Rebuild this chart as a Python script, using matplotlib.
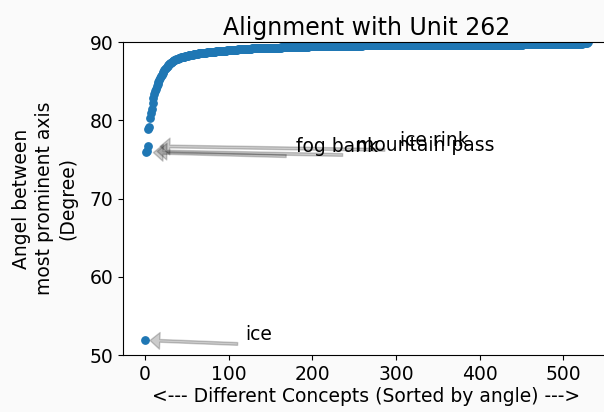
import matplotlib
matplotlib.use("Agg")
import matplotlib.pyplot as plt
import numpy as np

# Angle (degrees) between each concept and the unit's most prominent axis, sorted ascending
angles = [
    51.90, 75.90, 76.05, 76.70, 78.90, 79.20, 80.30, 80.90, 81.50, 82.20,
    82.80, 83.30, 83.70, 84.05, 84.35, 84.65, 84.90, 85.15, 85.40, 85.60,
    85.80, 86.00, 86.20, 86.40, 86.55, 86.70, 86.85, 87.00, 87.10, 87.20,
    87.30, 87.38, 87.46, 87.54, 87.60, 87.66, 87.72, 87.78, 87.83, 87.88,
    87.92, 87.96, 88.00, 88.03, 88.06, 88.09, 88.12, 88.15, 88.18, 88.21,
    88.24, 88.27, 88.30, 88.32, 88.34, 88.36, 88.38, 88.40, 88.42, 88.44,
    88.46, 88.48, 88.50, 88.52, 88.54, 88.55, 88.57, 88.58, 88.60, 88.61,
    88.62, 88.64, 88.65, 88.66, 88.68, 88.69, 88.70, 88.71, 88.72, 88.73,
    88.74, 88.75, 88.76, 88.77, 88.78, 88.79, 88.80, 88.81, 88.82, 88.83,
    88.84, 88.85, 88.86, 88.87, 88.88, 88.89, 88.90, 88.91, 88.92, 88.93,
    88.94, 88.95, 88.96, 88.97, 88.98, 88.99, 89.00, 89.01, 89.02, 89.03,
    89.04, 89.05, 89.06, 89.07, 89.08, 89.09, 89.10, 89.11, 89.12, 89.13,
    89.14, 89.14, 89.15, 89.15, 89.16, 89.16, 89.17, 89.17, 89.18, 89.18,
    89.19, 89.19, 89.20, 89.20, 89.21, 89.21, 89.21, 89.22, 89.22, 89.22,
    89.23, 89.23, 89.23, 89.24, 89.24, 89.24, 89.25, 89.25, 89.25, 89.26,
    89.26, 89.26, 89.27, 89.27, 89.27, 89.28, 89.28, 89.28, 89.29, 89.29,
    89.29, 89.30, 89.30, 89.31, 89.32, 89.33, 89.34, 89.35, 89.35, 89.36,
    89.36, 89.36, 89.37, 89.37, 89.37, 89.38, 89.38, 89.38, 89.38, 89.39,
    89.39, 89.39, 89.39, 89.40, 89.40, 89.40, 89.40, 89.41, 89.41, 89.41,
    89.41, 89.42, 89.42, 89.42, 89.42, 89.42, 89.43, 89.43, 89.43, 89.43,
    89.43, 89.44, 89.44, 89.44, 89.44, 89.44, 89.45, 89.45, 89.45, 89.45,
    89.45, 89.45, 89.46, 89.46, 89.46, 89.46, 89.46, 89.46, 89.47, 89.47,
    89.47, 89.47, 89.47, 89.47, 89.47, 89.48, 89.48, 89.48, 89.48, 89.48,
    89.48, 89.48, 89.49, 89.49, 89.49, 89.49, 89.49, 89.49, 89.49, 89.50,
    89.51, 89.52, 89.52, 89.53, 89.53, 89.53, 89.54, 89.54, 89.54, 89.54,
    89.55, 89.55, 89.55, 89.55, 89.55, 89.55, 89.55, 89.55, 89.55, 89.55,
    89.56, 89.56, 89.56, 89.56, 89.56, 89.56, 89.56, 89.56, 89.56, 89.56,
    89.56, 89.56, 89.56, 89.56, 89.56, 89.56, 89.56, 89.56, 89.56, 89.56,
    89.57, 89.57, 89.57, 89.57, 89.57, 89.57, 89.57, 89.57, 89.57, 89.57,
    89.57, 89.57, 89.57, 89.57, 89.57, 89.57, 89.57, 89.57, 89.57, 89.57,
    89.57, 89.57, 89.57, 89.57, 89.57, 89.57, 89.57, 89.57, 89.57, 89.57,
    89.58, 89.58, 89.58, 89.58, 89.58, 89.58, 89.58, 89.58, 89.58, 89.58,
    89.58, 89.58, 89.58, 89.58, 89.58, 89.58, 89.58, 89.58, 89.58, 89.58,
    89.58, 89.58, 89.58, 89.58, 89.58, 89.58, 89.58, 89.58, 89.58, 89.58,
    89.59, 89.59, 89.59, 89.59, 89.59, 89.59, 89.59, 89.59, 89.59, 89.59,
    89.59, 89.59, 89.59, 89.59, 89.59, 89.59, 89.59, 89.59, 89.59, 89.59,
    89.59, 89.59, 89.59, 89.59, 89.59, 89.59, 89.59, 89.59, 89.59, 89.59,
    89.60, 89.60, 89.60, 89.60, 89.60, 89.60, 89.60, 89.60, 89.60, 89.60,
    89.60, 89.60, 89.60, 89.60, 89.60, 89.60, 89.60, 89.60, 89.60, 89.60,
    89.60, 89.60, 89.60, 89.60, 89.60, 89.60, 89.60, 89.60, 89.60, 89.60,
    89.61, 89.61, 89.61, 89.61, 89.61, 89.61, 89.61, 89.61, 89.61, 89.61,
    89.61, 89.61, 89.61, 89.61, 89.61, 89.61, 89.61, 89.61, 89.61, 89.61,
    89.61, 89.61, 89.61, 89.61, 89.61, 89.61, 89.61, 89.61, 89.61, 89.61,
    89.62, 89.62, 89.62, 89.62, 89.62, 89.62, 89.62, 89.62, 89.62, 89.62,
    89.62, 89.62, 89.62, 89.62, 89.66, 89.67, 89.67, 89.67, 89.68, 89.68,
    89.68, 89.68, 89.69, 89.69, 89.69, 89.69, 89.70, 89.70, 89.70, 89.70,
    89.70, 89.71, 89.71, 89.71, 89.71, 89.71, 89.72, 89.72, 89.72, 89.72,
    89.72, 89.72, 89.73, 89.73, 89.73, 89.73, 89.73, 89.73, 89.74, 89.74,
    89.74, 89.74, 89.74, 89.74, 89.74, 89.75, 89.75, 89.75, 89.75, 89.75,
    89.75, 89.75, 89.76, 89.76, 89.76, 89.76, 89.76, 89.76, 89.76, 89.77,
    89.77, 89.77, 89.77, 89.77, 89.77, 89.77, 89.78, 89.78, 89.78, 89.78,
    89.78, 89.78, 89.78, 89.79, 89.79, 89.79, 89.79, 89.79, 89.80, 89.80,
    89.80, 89.81, 89.81, 89.82, 89.83, 89.84, 89.86, 89.88, 89.91, 89.95,
]

# Concepts with the smallest angles, labelled on the plot
concept_names = ["ice", "fog bank", "mountain pass", "ice rink"]
label_offsets = [120, 180, 250, 302]

x = np.arange(len(angles))

FS = 13.5

fig = plt.figure(figsize=(6.04, 4.12), dpi=100, facecolor="#fafafa")
ax = fig.add_axes([0.2035, 0.138, 0.806, 0.760])
ax.set_facecolor("white")

ax.scatter(x, angles, s=28, color="#1f77b4", zorder=2)

for i, name in enumerate(concept_names):
    ax.annotate(
        name,
        xy=(x[i], angles[i]),
        xytext=(x[i] + label_offsets[i], angles[i]),
        fontsize=FS,
        arrowprops=dict(facecolor="black", edgecolor="black", alpha=0.2,
                        width=2.0, headwidth=12, headlength=7, shrink=0.05),
    )

ax.set_ylim(50, 90)
ax.set_yticks([50, 60, 70, 80, 90])
ax.set_xticks([0, 100, 200, 300, 400, 500])
ax.tick_params(labelsize=FS)

ax.set_title("Alignment with Unit 262", fontsize=17, pad=5)
ax.set_xlabel("<--- Different Concepts (Sorted by angle) --->", fontsize=FS, labelpad=2)
ax.set_ylabel("Angel between\nmost prominent axis\n(Degree)", fontsize=FS,
              linespacing=1.25, labelpad=9)

fig.savefig("out.png", dpi=100, facecolor=fig.get_facecolor())
